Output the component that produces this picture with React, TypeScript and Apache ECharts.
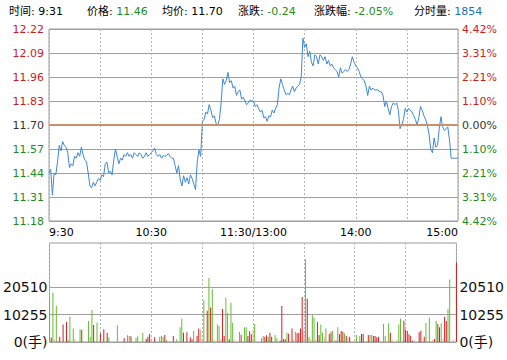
import { useEffect, useRef } from 'react';
import * as echarts from 'echarts';

const FONT = "'DejaVu Sans', 'Noto Sans CJK SC', sans-serif";

// previous close and price axis
const prevClose = 11.7;
const priceMin = 11.18;
const priceMax = 12.22;
const priceStep = 0.13;
const pctLabels = ['4.42%', '3.31%', '2.21%', '1.10%', '0.00%', '1.10%', '2.21%', '3.31%', '4.42%'];

// time axis (minutes since 9:30, lunch break removed)
const timeTicks = [0, 60, 120, 180, 240];
const timeLabels = ['9:30', '10:30', '11:30/13:00', '14:00', '15:00'];

// minute prices, index = minute
const prices = [
  11.44, 11.46, 11.32, 11.44, 11.43, 11.5, 11.59, 11.56, 11.61, 11.59,
  11.58, 11.55, 11.47, 11.49, 11.48, 11.53, 11.52, 11.55, 11.53, 11.58,
  11.54, 11.51, 11.5, 11.44, 11.37, 11.36, 11.39, 11.37, 11.39, 11.41,
  11.4, 11.43, 11.42, 11.49, 11.5, 11.44, 11.45, 11.43, 11.51, 11.57,
  11.53, 11.49, 11.52, 11.51, 11.54, 11.53, 11.55, 11.53, 11.54, 11.52,
  11.55, 11.54, 11.53, 11.55, 11.54, 11.52, 11.53, 11.55, 11.53, 11.54,
  11.55, 11.56, 11.575, 11.54, 11.53, 11.54, 11.52, 11.535, 11.53, 11.535,
  11.545, 11.53, 11.52, 11.52, 11.48, 11.44, 11.48, 11.405, 11.37, 11.425,
  11.39, 11.415, 11.38, 11.43, 11.41, 11.38, 11.35, 11.5, 11.565, 11.53,
  11.72, 11.73, 11.77, 11.76, 11.81, 11.78, 11.74, 11.75, 11.71, 11.7,
  11.73, 11.82, 11.95, 11.92, 11.94, 11.985, 11.93, 11.94, 11.9, 11.91,
  11.86, 11.88, 11.89, 11.84, 11.85, 11.83, 11.81, 11.82, 11.835, 11.83,
  11.83, 11.8, 11.81, 11.79, 11.77, 11.78, 11.74, 11.745, 11.72, 11.75,
  11.745, 11.78, 11.765, 11.79, 11.81, 11.9, 11.95, 11.92, 11.89, 11.865,
  11.87, 11.865, 11.89, 11.91, 11.88, 11.9, 11.91, 11.92, 11.96, 12.17,
  12.12, 12.14, 12.07, 12.1, 12.04, 12.02, 12.08, 12.07, 12.03, 12.08,
  12.07, 12.05, 12.07, 12.03, 12.05, 12.02, 12.03, 12.01, 12.0, 11.99,
  11.96, 12.01, 11.98, 11.99, 12.0, 11.99, 12.0, 12.03, 12.07, 12.04,
  12.02, 12.01, 11.99, 11.96, 11.95, 11.94, 11.91, 11.86, 11.91, 11.89,
  11.9, 11.89, 11.89, 11.89, 11.88, 11.88, 11.86, 11.8, 11.83, 11.79,
  11.755, 11.8, 11.82, 11.81, 11.82, 11.78, 11.68, 11.7, 11.73, 11.79,
  11.77, 11.79, 11.78, 11.77, 11.75, 11.73, 11.7, 11.74, 11.8, 11.78,
  11.75, 11.73, 11.7, 11.65, 11.57, 11.55, 11.63, 11.58, 11.59, 11.68,
  11.745, 11.69, 11.67, 11.68, 11.69, 11.62, 11.52, 11.52, 11.52, 11.52,
  11.52,
];

// minute volumes (手): minute, volume, direction (r = up, g = down, s = flat)
const volMinutes = [
  0, 1, 2, 3, 4, 5, 6, 8, 10, 11, 12, 14, 15, 18, 19, 23, 24, 25, 26, 28,
  30, 32, 34, 35, 40, 44, 46, 47, 48, 51, 52, 55, 57, 58, 59, 60, 62, 65, 66, 67,
  68, 69, 73, 75, 77, 78, 79, 81, 83, 84, 85, 87, 88, 89, 90, 91, 93, 94, 95, 96,
  97, 99, 100, 101, 102, 103, 104, 105, 106, 107, 108, 109, 112, 113, 115, 116, 117, 118, 119, 120,
  121, 125, 126, 127, 128, 129, 130, 131, 133, 134, 136, 137, 138, 139, 140, 141, 143, 144, 145, 146,
  147, 148, 149, 150, 151, 152, 153, 154, 155, 156, 157, 158, 159, 160, 161, 162, 163, 165, 166, 167,
  168, 169, 170, 171, 172, 173, 174, 175, 176, 177, 180, 181, 183, 184, 185, 188, 189, 190, 191, 192,
  193, 194, 197, 198, 200, 201, 202, 205, 206, 207, 209, 210, 211, 212, 213, 214, 215, 218, 219, 221,
  222, 224, 226, 227, 228, 229, 230, 231, 232, 233, 234, 235, 236, 238, 240,
];
const volValues = [
  16860, 1700, 18480, 800, 13400, 600, 2000, 6570, 7440, 700, 9420, 5080, 1000, 4710, 4460, 7800, 1990, 11900, 6320, 7300,
  3220, 4710, 3350, 1740, 6200, 1490, 2480, 2230, 2100, 1610, 2100, 3350, 1100, 1990, 2980, 1240, 1740, 1990, 2230, 1990,
  2600, 750, 2230, 1000, 5460, 8800, 3470, 3600, 1740, 1000, 4220, 2360, 5080, 4700, 750, 15600, 11660, 23930, 12900, 19700,
  750, 6570, 5950, 1000, 12280, 2230, 16490, 10790, 1000, 14630, 7200, 750, 3720, 2730, 5460, 5460, 2230, 3970, 2850, 4460,
  6700, 1360, 2230, 1990, 2480, 1990, 3470, 1990, 2600, 1360, 500, 13400, 1000, 1000, 3470, 3100, 5080, 1000, 3850, 3220,
  3350, 5080, 16740, 4100, 30765, 16120, 1860, 1000, 10040, 9180, 750, 7440, 2600, 6570, 3470, 1990, 5080, 2980, 3600, 4220,
  750, 500, 5460, 2850, 4100, 3850, 3220, 2360, 1610, 1990, 750, 2600, 2230, 2980, 3100, 2600, 2730, 2600, 2230, 2230,
  1740, 1990, 6700, 2230, 6950, 3470, 750, 750, 6570, 8800, 7940, 4460, 4220, 2850, 2230, 400, 750, 3600, 4220, 1990,
  7070, 9050, 750, 1100, 7940, 6700, 5460, 6950, 1100, 9420, 7810, 12280, 23310, 750, 29640,
];
const volDirs = [
  'g', 'r', 'g', 's', 'g', 's', 'r', 'r', 'r', 'g', 'g', 'g', 's', 'g', 'r', 'g', 'g', 'g', 'r', 'g',
  'r', 'r', 'r', 'g', 'g', 'r', 'g', 'g', 'r', 'g', 'g', 'g', 'r', 'r', 'r', 's', 'r', 'g', 'g', 'g',
  'r', 'g', 'r', 'g', 'g', 'g', 'r', 'r', 'r', 'r', 'g', 'r', 'r', 's', 's', 'g', 'r', 'g', 'r', 'g',
  's', 'g', 'g', 's', 'r', 'r', 'g', 'g', 'r', 'g', 'g', 's', 'g', 'r', 'g', 'g', 'r', 'r', 'r', 's',
  'g', 'g', 'g', 'r', 'r', 'g', 'r', 'r', 'g', 'g', 'r', 'r', 'r', 'r', 'g', 'r', 'r', 's', 'g', 'r',
  'r', 'r', 'r', 's', 'g', 'r', 'g', 's', 'g', 'g', 's', 'r', 'r', 'g', 'g', 's', 'g', 'r', 'r', 'g',
  's', 'r', 'g', 'r', 'r', 'r', 'g', 'r', 's', 'r', 's', 'g', 'g', 'r', 'r', 'r', 'g', 'g', 'r', 'r',
  'r', 'r', 'g', 'g', 'g', 'r', 's', 's', 'g', 'g', 'r', 'r', 'r', 'r', 'r', 'r', 's', 'r', 'r', 'r',
  'g', 'g', 's', 'r', 'g', 'r', 'r', 'g', 's', 'r', 'r', 'g', 'g', 's', 'r',
];
const volTicks = [0, 10255, 20510];
const volLabels = ['0(手)', '10255', '20510'];
const volAxisMax = 36918;

// header
const headerLabels = ['时间', '价格', '均价', '涨跌', '涨跌幅', '分时量'];
const headerValues = ['9:31', '11.46', '11.70', '-0.24', '-2.05%', '1854'];
const headerTones = ['k', 'g', 'k', 'g', 'g', 'b'];

const RED = '#c81e1e';
const GREEN = '#1e8c1e';
const volColors: Record<string, string> = { r: '#d42020', g: '#66bb33', s: '#f3a58c' };

const priceColor = (v: number) =>
  Math.abs(v - prevClose) < 1e-6 ? '#333333' : v > prevClose ? RED : GREEN;

export default function App() {
  const ref = useRef<HTMLDivElement>(null);
  useEffect(() => {
    const chart = echarts.init(ref.current!, null, { renderer: 'svg' });
    const headerX = [9, 87, 162, 238, 314, 414];
    const dotted = { show: true, lineStyle: { color: '#b4b4b4', type: [2, 2], width: 1 } };
    const option: any = {
      animation: false,
      textStyle: { fontFamily: FONT },
      grid: [
        { left: 49, right: 49, top: 29, height: 192, show: true, borderColor: '#999', borderWidth: 1 },
        { left: 49, right: 49, top: 243, height: 99, show: true, borderColor: '#999', borderWidth: 1 },
      ],
      xAxis: [
        {
          type: 'value', gridIndex: 0, min: 0, max: 240, interval: 30,
          axisLine: { show: false }, axisTick: { show: false }, splitLine: dotted,
          axisLabel: {
            formatter: (v: any) => {
              const i = timeTicks.indexOf(Number(v));
              return i >= 0 ? timeLabels[i] : '';
            },
            color: '#000', fontSize: 11, fontFamily: FONT, margin: 6,
            alignMinLabel: 'left', alignMaxLabel: 'right', showMinLabel: true, showMaxLabel: true,
          },
        },
        {
          type: 'value', gridIndex: 1, min: 0, max: 240, interval: 30,
          axisLine: { show: false }, axisTick: { show: false }, axisLabel: { show: false }, splitLine: dotted,
        },
      ],
      yAxis: [
        {
          type: 'value', gridIndex: 0, min: priceMin, max: priceMax, interval: priceStep, position: 'left',
          axisLine: { show: false }, axisTick: { show: false },
          splitLine: { show: true, lineStyle: { color: '#a0a0a0', width: 1 } },
          axisLabel: {
            formatter: (v: any) => Number(v).toFixed(2),
            color: (v: any) => priceColor(Number(v)),
            fontSize: 11, fontFamily: FONT, margin: 5,
          },
        },
        {
          type: 'value', gridIndex: 0, min: priceMin, max: priceMax, interval: priceStep, position: 'right',
          axisLine: { show: false }, axisTick: { show: false }, splitLine: { show: false },
          axisLabel: {
            formatter: (v: any) => pctLabels[8 - Math.round((Number(v) - priceMin) / priceStep)] ?? '',
            color: (v: any) => priceColor(Number(v)),
            fontSize: 11, fontFamily: FONT, margin: 4,
          },
        },
        {
          type: 'value', gridIndex: 1, min: 0, max: volAxisMax, position: 'left',
          axisLine: { show: false }, axisTick: { show: false, customValues: volTicks },
          splitLine: { show: true, lineStyle: { color: '#a0a0a0', width: 1 } },
          axisLabel: {
            customValues: volTicks,
            formatter: (v: any) => volLabels[volTicks.indexOf(Number(v))] ?? '',
            color: '#111', fontSize: 14, fontFamily: FONT, margin: 2,
          },
        },
        {
          type: 'value', gridIndex: 1, min: 0, max: volAxisMax, position: 'right',
          axisLine: { show: false }, axisTick: { show: false, customValues: volTicks },
          splitLine: { show: false },
          axisLabel: {
            customValues: volTicks,
            formatter: (v: any) => volLabels[volTicks.indexOf(Number(v))] ?? '',
            color: '#111', fontSize: 14, fontFamily: FONT, margin: 3,
          },
        },
      ],
      series: [
        {
          type: 'line', xAxisIndex: 0, yAxisIndex: 0,
          data: prices.map((p, i) => [i, p]),
          symbol: 'none', lineStyle: { color: '#3f88d4', width: 1 },
          markLine: {
            symbol: 'none', silent: true, label: { show: false },
            lineStyle: { color: '#c8916c', width: 2, type: 'solid' },
            data: [{ yAxis: prevClose }],
          },
        },
        {
          type: 'bar', xAxisIndex: 1, yAxisIndex: 2, barWidth: 1,
          data: volMinutes.map((m, i) => ({
            value: [m, volValues[i]],
            itemStyle: { color: volColors[volDirs[i]] },
          })),
        },
      ],
      graphic: headerLabels.map((l, i) => ({
        type: 'text',
        left: headerX[i],
        top: 6,
        style: {
          text: `{k|${l}: }{${headerTones[i]}|${headerValues[i]}}`,
          fontSize: 11,
          fontFamily: FONT,
          fill: '#000',
          rich: {
            k: { fill: '#000', fontSize: 11, fontFamily: FONT },
            g: { fill: GREEN, fontSize: 11, fontFamily: FONT },
            b: { fill: '#1b6fbd', fontSize: 11, fontFamily: FONT },
          },
        },
      })),
    };
    chart.setOption(option);
    return () => chart.dispose();
  }, []);
  return <div ref={ref} style={{ position: 'absolute', left: 0, top: 0, width: 507, height: 360 }} />;
}
